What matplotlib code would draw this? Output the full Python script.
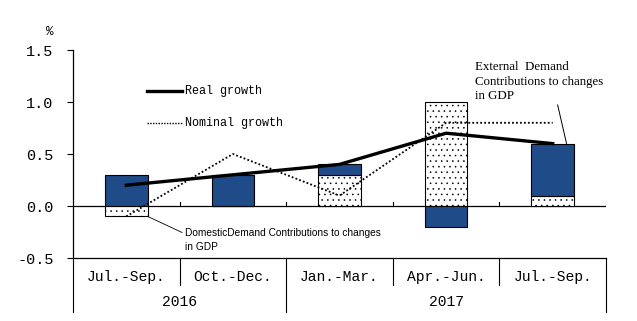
import matplotlib.pyplot as plt
import numpy as np

quarters = ['Jul.-Sep.', 'Oct.-Dec.', 'Jan.-Mar.', 'Apr.-Jun.', 'Jul.-Sep.']
years = ['2016', '2017']
year_spans = [(0, 2), (2, 5)]
domestic = [-0.1, 0.0, 0.3, 1.0, 0.1]
external = [0.3, 0.3, 0.1, -0.2, 0.5]
real = [0.2, 0.3, 0.4, 0.7, 0.6]
nominal = [-0.1, 0.5, 0.1, 0.8, 0.8]

blue = '#1f4b88'
mono = 'Liberation Mono'
plt.rcParams['hatch.linewidth'] = 0.4

fig = plt.figure(figsize=(6.37, 3.21), dpi=100)
ax = fig.add_axes([73 / 637, 1 - 258 / 321, 533 / 637, 208 / 321])

x = np.arange(len(quarters))
dom = np.array(domestic)
ext = np.array(external)
ext_bottom = np.where(np.sign(dom) == np.sign(ext), dom, 0.0)

ax.bar(x, dom, width=0.4, color='white', edgecolor='black', hatch='...',
       linewidth=0.8, zorder=2)
ax.bar(x, ext, width=0.4, bottom=ext_bottom, color=blue, edgecolor='black',
       linewidth=0.8, zorder=2)

ax.plot(x, real, color='black', lw=2.4, zorder=4)
ax.plot(x, nominal, color='black', lw=1.3, ls=(0, (1, 1.2)), zorder=3)

ax.set_xlim(-0.5, 4.5)
ax.set_ylim(-0.5, 1.5)
ax.set_yticks([-0.5, 0.0, 0.5, 1.0, 1.5])
ax.set_yticklabels(['-0.5', '0.0', '0.5', '1.0', '1.5'], fontfamily=mono, fontsize=11)
ax.tick_params(axis='y', direction='out', length=4, width=0.8, pad=10)
ax.set_xticks([])
for s in ['top', 'right']:
    ax.spines[s].set_visible(False)
ax.spines['left'].set_linewidth(0.9)
ax.spines['bottom'].set_linewidth(0.9)

# zero line with small upward ticks at category boundaries
ax.axhline(0, color='black', lw=0.9, zorder=1)
for b in np.arange(0.5, 5, 1.0):
    ax.plot([b, b], [0, 0.04], color='black', lw=0.8, zorder=1)

ax.text(-0.716, 1.67, '%', fontfamily=mono, fontsize=9, ha='center', va='center')

# table below the axis
tr = ax.get_xaxis_transform()
for i, q in enumerate(quarters):
    ax.text(i, -0.092, q, transform=tr, ha='center', va='center',
            fontfamily=mono, fontsize=10.5)
for b in [0.5, 2.5, 3.5]:
    ax.plot([b, b], [0, -0.13], transform=tr, color='black', lw=0.8, clip_on=False)
for b in [-0.5, 1.5, 4.5]:
    ax.plot([b, b], [0, -0.26], transform=tr, color='black', lw=0.8, clip_on=False)
for yr, (a, b) in zip(years, year_spans):
    ax.text((a + b - 1) / 2, -0.212, yr, transform=tr, ha='center', va='center',
            fontfamily=mono, fontsize=10.5)

# legend
ax.plot([0.19, 0.52], [1.106, 1.106], color='black', lw=2.4)
ax.text(0.55, 1.106, 'Real growth', fontfamily=mono, fontsize=8.5, va='center')
ax.plot([0.19, 0.52], [0.80, 0.80], color='black', lw=1.0, ls=(0, (1, 1)))
ax.text(0.55, 0.80, 'Nominal growth', fontfamily=mono, fontsize=8.5, va='center')

# annotations
ax.annotate('DomesticDemand Contributions to changes\nin GDP', xy=(0.2, -0.1),
            xytext=(0.55, -0.21), fontsize=7.3, fontfamily='Liberation Sans',
            va='top', ha='left', linespacing=1.5,
            arrowprops=dict(arrowstyle='-', color='black', lw=0.6,
                            shrinkA=0, shrinkB=0, relpos=(0, 0.75)))
ax.annotate('External  Demand\nContributions to changes\nin GDP', xy=(4.13, 0.6),
            xytext=(3.27, 1.0), fontsize=9.3, fontfamily='Liberation Serif',
            va='bottom', ha='left', linespacing=1.25,
            arrowprops=dict(arrowstyle='-', color='black', lw=0.7,
                            shrinkA=0, shrinkB=0, relpos=(0.64, 0)))

fig.savefig('out.png', dpi=100)
